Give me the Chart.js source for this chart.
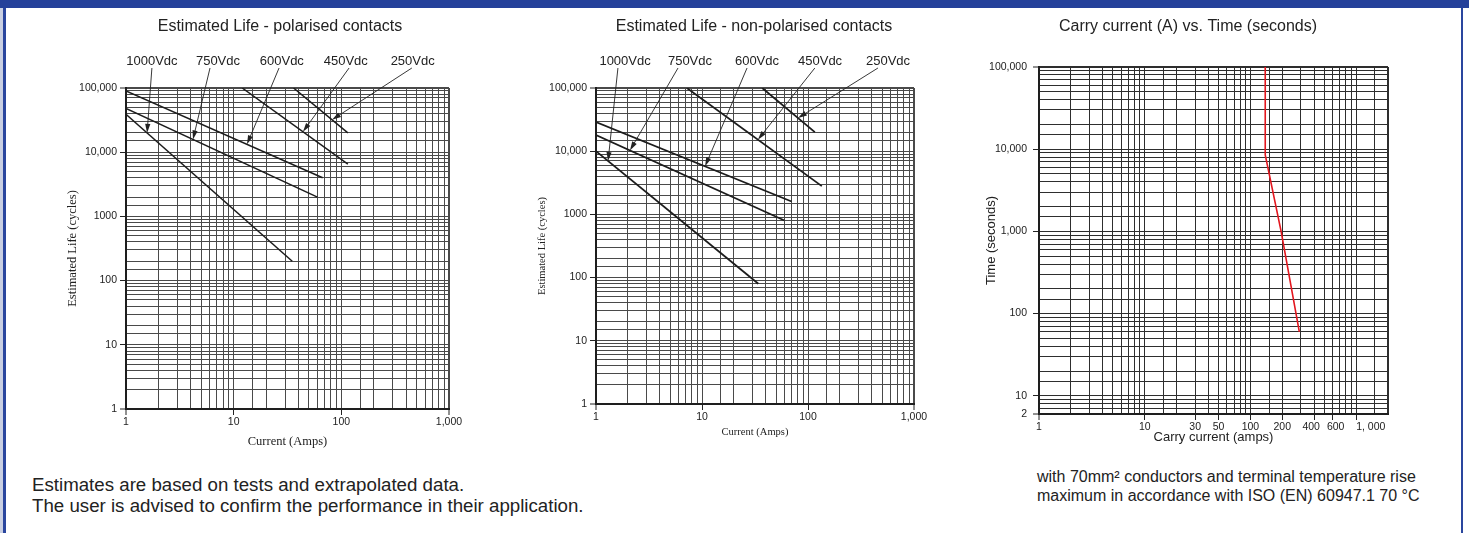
<!DOCTYPE html>
<html>
<head>
<meta charset="utf-8">
<title>Estimated life and carry current</title>
<script src="https://cdn.jsdelivr.net/npm/chart.js@4.4.1/dist/chart.umd.min.js"></script>
<style>
  body { margin: 0; background: #fff; }
  #page { position: relative; width: 1469px; height: 533px; overflow: hidden; background: #fff;
          font-family: "Liberation Sans", Arial, sans-serif; color: #222; }
  .bar { position: absolute; left: 0; top: 0; width: 1469px; height: 8px; background: #25419a; }
  .edge-l { position: absolute; left: 0; top: 8px; width: 3px; height: 525px; background: #c9cfe2; }
  .edge-l2 { position: absolute; left: 3px; top: 8px; width: 3px; height: 525px; background: #2a469e; }
  .edge-r { position: absolute; left: 1461px; top: 8px; width: 2px; height: 525px; background: #2a469e; }
  canvas { position: absolute; }
  .note { position: absolute; white-space: nowrap; color: #222; }
</style>
</head>
<body>
<div id="page">
  <div class="bar"></div>
  <div class="edge-l"></div>
  <div class="edge-l2"></div>
  <div class="edge-r"></div>

  <canvas id="polarised" width="480" height="450" style="left:10px;top:10px"></canvas>
  <canvas id="nonpolarised" width="460" height="450" style="left:500px;top:10px"></canvas>
  <canvas id="carry" width="500" height="450" style="left:960px;top:10px"></canvas>

  <div class="note" style="left:32px;top:475px;font-size:18.7px;line-height:20.5px">
    Estimates are based on tests and extrapolated data.<br>
    The user is advised to confirm the performance in their application.
  </div>
  <div class="note" style="left:1037px;top:467px;font-size:16px;line-height:19px">
    with 70mm² conductors and terminal temperature rise<br>
    maximum in accordance with ISO (EN) 60947.1 70 °C
  </div>
</div>

<script>
// axis ticks
const lifeTickValues = [1, 10, 100, 1000, 10000, 100000];
const lifeTickText = ['1', '10', '100', '1000', '10,000', '100,000'];
const ampTickValues = [1, 10, 100, 1000];
const ampTickText = ['1', '10', '100', '1,000'];

const voltLabels = ['1000Vdc', '750Vdc', '600Vdc', '450Vdc', '250Vdc'];

// polarised contacts - start and end of each line (amps, cycles)
const pol1000Amps = [1, 35];    const pol1000Life = [39000, 200];
const pol750Amps = [1, 60];     const pol750Life = [48000, 2000];
const pol600Amps = [1, 67];     const pol600Life = [90000, 4000];
const pol450Amps = [12, 115];   const pol450Life = [100000, 6500];
const pol250Amps = [36, 115];   const pol250Life = [100000, 20000];
// current where each callout arrow meets its line
const polArrowAmps = [1.57, 4.19, 13.3, 44, 82];

// non-polarised contacts
const non1000Amps = [1, 34];    const non1000Life = [10000, 80];
const non750Amps = [1, 60];     const non750Life = [18000, 800];
const non600Amps = [1, 70];     const non600Life = [29000, 1600];
const non450Amps = [7.2, 135];  const non450Life = [100000, 2800];
const non250Amps = [37, 116];   const non250Life = [100000, 20000];
const nonArrowAmps = [1.3, 2.09, 10.7, 33.7, 80.5];

// carry current vs time
const carryAmps = [138, 138, 195, 290];
const carrySeconds = [100000, 8500, 1000, 60];
const carryTickValues = [1, 10, 30, 50, 100, 200, 400, 600, 1000];
const carryTickText = ['1', '10', '30', '50', '100', '200', '400', '600', '1, 000'];
const timeTickValues = [6, 10, 100, 1000, 10000, 100000];
const timeTickText = ['2', '10', '100', '1,000', '10,000', '100,000'];

const SANS = '"Liberation Sans", Arial, sans-serif';
const SERIF = '"Liberation Serif", "Times New Roman", serif';

Chart.defaults.font.family = SANS;
Chart.defaults.color = '#222';

function pairs(xs, ys) {
  return xs.map((x, i) => ({x: x, y: ys[i]}));
}

// label only the listed ticks; nudge = spaces added before (+) or after (-) a label
function tickLabel(values, texts, nudge) {
  return v => {
    const i = values.indexOf(v);
    if (i < 0) return '';
    const n = (nudge && nudge[i]) || 0;
    if (n > 0) return ' '.repeat(n) + texts[i];
    if (n < 0) return texts[i] + ' '.repeat(-n);
    return texts[i];
  };
}

// y on a straight log-log segment of a dataset
function logInterp(pts, xv) {
  for (let k = 0; k < pts.length - 1; k++) {
    const a = pts[k], b = pts[k + 1];
    if (xv >= a.x && xv <= b.x) {
      const t = (Math.log(xv) - Math.log(a.x)) / (Math.log(b.x) - Math.log(a.x));
      return Math.exp(Math.log(a.y) + t * (Math.log(b.y) - Math.log(a.y)));
    }
  }
  return pts[0].y;
}

function logAxis(o) {
  return {
    type: 'logarithmic',
    min: o.min,
    max: o.max,
    ticks: {
      autoSkip: false,
      maxRotation: 0,
      padding: o.tickPad,
      color: '#222',
      font: {size: o.tickSize},
      callback: tickLabel(o.values, o.texts, o.nudge)
    },
    grid: {
      color: o.gridColor,
      lineWidth: ctx => (ctx.index === 0 || ctx.index === ctx.scale.ticks.length - 1) ? 2 : 1,
      tickLength: 6,
      tickWidth: 1,
      tickColor: ctx => (ctx.tick && o.values.includes(ctx.tick.value)) ? '#222' : 'rgba(0,0,0,0)'
    },
    border: {color: '#1e1e1e', width: 2},
    title: {display: true, text: o.title, color: '#222', font: o.titleFont, padding: o.titlePad},
    afterFit: s => {
      if (s.isHorizontal()) {
        s.height = o.size;
        s.paddingLeft = 0;
        s.paddingRight = 0;
      } else {
        s.width = o.size;
        s.paddingTop = 0;
        s.paddingBottom = 0;
      }
    }
  };
}

const heading = {
  id: 'heading',
  afterDraw(chart, args, o) {
    const c = chart.ctx;
    c.save();
    c.font = '16px ' + SANS;
    c.fillStyle = '#222';
    c.textAlign = 'center';
    c.textBaseline = 'middle';
    c.fillText(o.text, o.x, o.y);
    c.restore();
  }
};

const callouts = {
  id: 'callouts',
  afterDatasetsDraw(chart, args, o) {
    if (!o.labels) return;
    const c = chart.ctx;
    const {chartArea, scales: {x, y}} = chart;
    c.save();
    c.font = '13px ' + SANS;
    c.fillStyle = '#222';
    c.strokeStyle = '#222';
    c.lineWidth = 0.9;
    c.textAlign = 'center';
    c.textBaseline = 'middle';
    o.labels.forEach((txt, i) => {
      c.fillText(txt, x.getPixelForValue(o.labelX[i]), chartArea.top - 27);
      const fx = x.getPixelForValue(o.fromX[i]);
      const fy = chartArea.top - 20;
      const tv = o.tipX[i];
      const tx = x.getPixelForValue(tv);
      const ty = y.getPixelForValue(logInterp(chart.data.datasets[i].data, tv));
      const ang = Math.atan2(ty - fy, tx - fx);
      const cs = Math.cos(ang), sn = Math.sin(ang);
      c.beginPath();
      c.moveTo(fx, fy);
      c.lineTo(tx - 6 * cs, ty - 6 * sn);
      c.stroke();
      c.beginPath();
      c.moveTo(tx, ty);
      c.lineTo(tx - 9 * cs + 2.6 * sn, ty - 9 * sn - 2.6 * cs);
      c.lineTo(tx - 9 * cs - 2.6 * sn, ty - 9 * sn + 2.6 * cs);
      c.closePath();
      c.fill();
    });
    c.restore();
  }
};

function lineSet(label, xs, ys, color, width) {
  return {
    label: label,
    data: pairs(xs, ys),
    borderColor: color,
    borderWidth: width,
    pointRadius: 0,
    fill: false,
    tension: 0
  };
}

function lifeChart(id, sets, lw, L) {
  return new Chart(document.getElementById(id), {
    type: 'line',
    data: {datasets: sets.map((s, i) => lineSet(voltLabels[i], s[0], s[1], '#1c1c1c', lw))},
    options: {
      responsive: false,
      animation: false,
      devicePixelRatio: 1,
      layout: {padding: L.padding},
      plugins: {
        legend: {display: false},
        tooltip: {enabled: false},
        heading: {text: L.heading, x: L.headingX, y: 17},
        callouts: {labels: voltLabels, labelX: L.labelX, fromX: L.fromX, tipX: L.tipX}
      },
      scales: {
        x: logAxis({min: 1, max: 1000, values: ampTickValues, texts: ampTickText, tickPad: L.xTickPad,
          tickSize: L.tickSize, gridColor: '#4a4a4a', title: 'Current (Amps)',
          titleFont: {family: SERIF, size: L.titleSize}, titlePad: {top: 0, bottom: 0}, size: L.xSize}),
        y: logAxis({min: 1, max: 100000, values: lifeTickValues, texts: lifeTickText, tickPad: 3,
          tickSize: L.tickSize, gridColor: '#4a4a4a', title: 'Estimated Life (cycles)',
          titleFont: {family: SERIF, size: L.titleSize}, titlePad: {top: L.yTitlePad, bottom: 0}, size: L.ySize})
      }
    },
    plugins: [heading, callouts]
  });
}

lifeChart('polarised', [
  [pol1000Amps, pol1000Life], [pol750Amps, pol750Life], [pol600Amps, pol600Life],
  [pol450Amps, pol450Life], [pol250Amps, pol250Life]
], 1.5, {
  padding: {top: 78, right: 41, bottom: 11, left: 0},
  heading: 'Estimated Life - polarised contacts', headingX: 270,
  labelX: [1.74, 7.15, 28, 110, 460],
  fromX: [1.74, 6.03, 26.4, 118, 452],
  tipX: polArrowAmps,
  tickSize: 10.5, titleSize: 12.5, xTickPad: 1, xSize: 40, ySize: 116, yTitlePad: 55.5
});

lifeChart('nonpolarised', [
  [non1000Amps, non1000Life], [non750Amps, non750Life], [non600Amps, non600Life],
  [non450Amps, non450Life], [non250Amps, non250Life]
], 1.8, {
  padding: {top: 78, right: 46, bottom: 21, left: 0},
  heading: 'Estimated Life - non-polarised contacts', headingX: 254,
  labelX: [1.88, 7.7, 33, 130, 569],
  fromX: [1.61, 5.94, 26.6, 116, 457],
  tipX: nonArrowAmps,
  tickSize: 10.5, titleSize: 10.5, xTickPad: 1, xSize: 35, ySize: 96, yTitlePad: 35.7
});

new Chart(document.getElementById('carry'), {
  type: 'line',
  data: {datasets: [lineSet('Carry current', carryAmps, carrySeconds, '#e3161e', 1.6)]},
  options: {
    responsive: false,
    animation: false,
    devicePixelRatio: 1,
    layout: {padding: {top: 57, right: 72, bottom: 14.5, left: 0}},
    plugins: {
      legend: {display: false},
      tooltip: {enabled: false},
      heading: {text: 'Carry current (A) vs. Time (seconds)', x: 228, y: 17},
      callouts: {}
    },
    scales: {
      x: logAxis({min: 1, max: 2000, values: carryTickValues, texts: carryTickText, tickPad: 1,
        tickSize: 10.5, gridColor: '#2e2e2e', title: 'Carry current (amps)',
        nudge: [0, 0, 0, 0, 0, 0, -2, 2, 10],
        titleFont: {size: 13}, titlePad: {top: 0, bottom: 0}, size: 31.5}),
      y: logAxis({min: 6, max: 100000, values: timeTickValues, texts: timeTickText, tickPad: 6,
        tickSize: 10.5, gridColor: '#2e2e2e', title: 'Time (seconds)',
        titleFont: {size: 13}, titlePad: {top: 23.2, bottom: 0}, size: 79})
    }
  },
  plugins: [heading, callouts]
});
</script>
</body>
</html>
